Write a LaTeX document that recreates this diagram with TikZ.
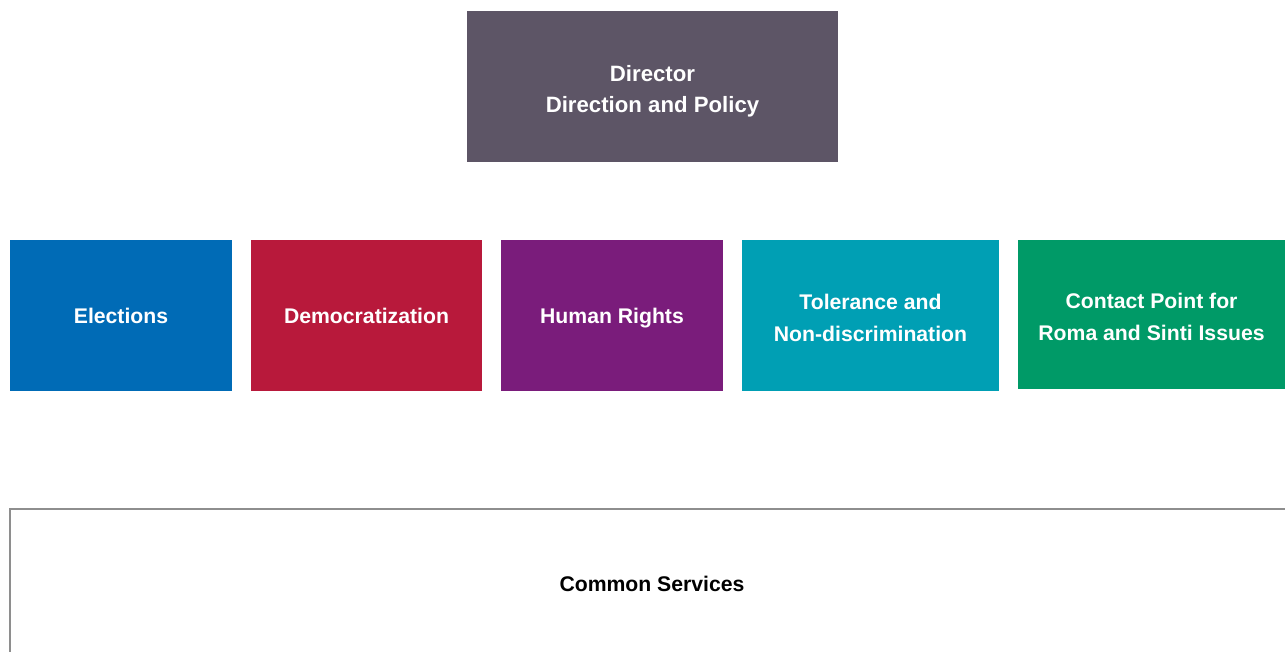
\documentclass[tikz,border=0pt]{standalone}
\usepackage{fontspec}
\setmainfont{Liberation Sans}
\definecolor{directorgray}{HTML}{5D5566}
\definecolor{electblue}{HTML}{006BB6}
\definecolor{democred}{HTML}{B8193B}
\definecolor{rightspurple}{HTML}{7A1C7B}
\definecolor{tolerteal}{HTML}{009FB4}
\definecolor{romagreen}{HTML}{009A67}
\definecolor{framegray}{HTML}{8E8E8E}
\begin{document}
\begin{tikzpicture}[x=1pt,y=-1pt,font=\fontsize{21.2}{32}\selectfont\bfseries,
  unit/.style={fill=#1,text=white,align=center,inner sep=0pt,minimum height=151pt,text depth=0pt},
  twoline/.style={text height=51.5pt}]
\useasboundingbox (0,0) rectangle (1285,652);

\node[unit=directorgray,twoline,minimum width=371pt,font=\fontsize{22.2}{31}\selectfont\bfseries] (director) at (652.5,86.5) {Director\\Direction and Policy};

\node[unit=electblue,minimum width=222pt] (elections) at (121,315.5) {Elections};
\node[unit=democred,minimum width=231pt] (democ) at (366.5,315.5) {Democratization};
\node[unit=rightspurple,minimum width=222pt] (rights) at (612,315.5) {Human Rights};
\node[unit=tolerteal,twoline,minimum width=257pt] (tolerance) at (870.5,315.5) {Tolerance and\\Non-discrimination};
\node[unit=romagreen,twoline,minimum width=267pt,minimum height=149pt] (roma) at (1151.5,314.5) {Contact Point for\\Roma and Sinti Issues};

\node[draw=framegray,line width=2.5pt,inner sep=0pt,minimum width=1284pt,minimum height=150pt] (common) at (652,584) {Common Services};
\end{tikzpicture}
\end{document}
